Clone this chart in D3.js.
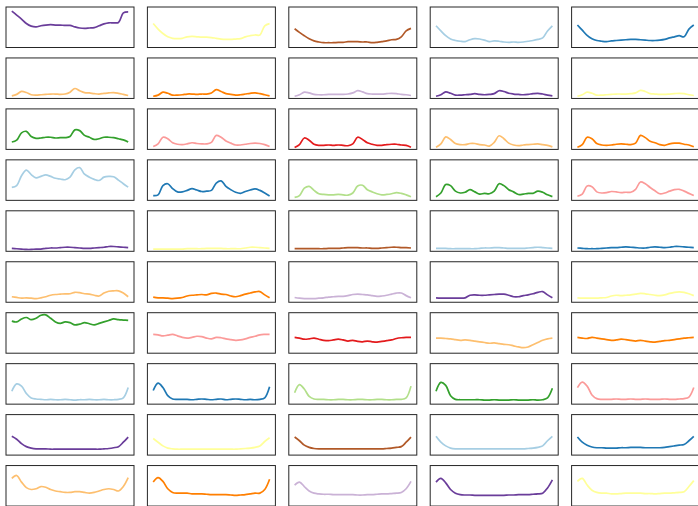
<!DOCTYPE html>
<html>
<head>
<meta charset="utf-8">
<script src="https://cdn.jsdelivr.net/npm/d3@7"></script>
<style>
  body { margin: 0; background: #fff; }
  svg { display: block; }
</style>
</head>
<body>
<div id="chart"></div>
<script>
// small multiples, 10 rows x 5 columns, one series per panel (values 0-100, shared y)

var row0 = [
  [94, 83, 72, 60, 53, 51, 54, 56, 57, 56, 56, 55, 55, 51, 48, 47, 48, 49, 54, 59, 62, 62, 63, 89, 92],
  [60, 45, 33, 24, 20, 19, 20, 24, 25, 24, 23, 23, 22, 20, 18, 17, 17, 18, 19, 24, 27, 29, 29, 54, 60],
  [46, 36, 27, 19, 13, 10, 8, 8, 8, 9, 9, 11, 11, 11, 10, 10, 8, 9, 11, 13, 16, 17, 24, 40, 47],
  [54, 40, 27, 18, 14, 12, 11, 16, 19, 18, 15, 11, 13, 12, 10, 9, 10, 9, 10, 12, 14, 17, 21, 40, 54],
  [56, 42, 28, 19, 14, 12, 11, 13, 14, 15, 16, 17, 17, 16, 15, 14, 14, 15, 17, 21, 24, 27, 24, 45, 56]
];
var row1 = [
  [2, 6, 14, 11, 5, 4, 5, 6, 7, 7, 6, 7, 12, 22, 16, 11, 10, 8, 7, 9, 10, 11, 9, 6, 3],
  [1, 4, 12, 9, 4, 4, 5, 7, 7, 6, 7, 7, 10, 19, 14, 8, 6, 4, 5, 7, 9, 10, 8, 5, 2],
  [1, 5, 12, 10, 6, 5, 5, 6, 6, 6, 6, 7, 10, 16, 13, 8, 7, 7, 7, 8, 9, 8, 6, 5, 3],
  [1, 5, 13, 9, 4, 4, 5, 6, 8, 6, 5, 6, 8, 16, 14, 9, 7, 6, 5, 6, 8, 9, 7, 4, 2],
  [1, 5, 12, 9, 4, 4, 5, 6, 7, 7, 7, 8, 10, 17, 14, 8, 7, 6, 6, 7, 8, 9, 8, 5, 3]
];
var row2 = [
  [15, 20, 40, 44, 30, 25, 26, 28, 28, 26, 27, 27, 30, 48, 46, 33, 28, 22, 24, 28, 28, 27, 24, 21, 15],
  [3, 10, 28, 24, 13, 9, 8, 10, 13, 11, 10, 10, 14, 33, 28, 18, 12, 7, 7, 9, 11, 12, 11, 8, 3],
  [0, 8, 26, 20, 9, 6, 6, 7, 6, 7, 6, 5, 10, 28, 22, 13, 9, 6, 6, 8, 9, 9, 7, 6, 1],
  [1, 10, 29, 22, 11, 8, 8, 11, 11, 8, 7, 4, 14, 32, 24, 12, 7, 5, 7, 8, 9, 10, 8, 6, 2],
  [1, 8, 28, 24, 11, 7, 6, 7, 9, 10, 9, 8, 12, 33, 27, 17, 13, 8, 6, 10, 12, 12, 9, 7, 2]
];
var row3 = [
  [30, 35, 62, 77, 65, 56, 60, 64, 60, 55, 53, 51, 58, 78, 84, 66, 58, 52, 49, 58, 60, 59, 50, 40, 31],
  [8, 10, 35, 40, 27, 18, 18, 22, 27, 23, 19, 20, 22, 42, 48, 33, 24, 17, 14, 19, 23, 26, 22, 15, 7],
  [3, 8, 28, 33, 22, 13, 11, 10, 10, 11, 10, 9, 15, 34, 36, 24, 18, 13, 10, 11, 13, 16, 14, 10, 5],
  [5, 15, 38, 35, 20, 15, 17, 24, 18, 12, 14, 13, 20, 40, 35, 24, 18, 11, 12, 14, 14, 20, 17, 10, 5],
  [6, 12, 34, 32, 18, 15, 16, 19, 18, 16, 17, 17, 25, 45, 40, 30, 21, 13, 15, 20, 24, 25, 20, 14, 8]
];
var row4 = [
  [3, 2, 1, 0, 0, 1, 1, 3, 4, 4, 5, 6, 6, 5, 4, 3, 3, 4, 5, 6, 8, 8, 7, 6, 5],
  [1, 1, 1, 1, 1, 1, 1, 2, 2, 2, 2, 3, 3, 3, 3, 2, 2, 2, 2, 4, 6, 6, 5, 4, 3],
  [2, 2, 2, 2, 2, 2, 2, 3, 3, 3, 4, 5, 5, 5, 4, 4, 3, 3, 4, 5, 6, 6, 5, 5, 4],
  [3, 3, 3, 2, 2, 2, 2, 2, 2, 3, 4, 4, 5, 5, 4, 3, 3, 3, 3, 4, 5, 6, 5, 4, 3],
  [4, 3, 2, 2, 2, 3, 4, 5, 5, 6, 7, 6, 5, 4, 4, 6, 7, 6, 5, 6, 8, 8, 7, 6, 5]
];
var row5 = [
  [10, 8, 6, 7, 6, 5, 7, 10, 14, 16, 17, 18, 18, 22, 21, 18, 17, 14, 12, 20, 25, 26, 26, 20, 10],
  [9, 7, 7, 6, 5, 6, 8, 12, 14, 15, 16, 15, 19, 20, 17, 16, 12, 10, 13, 17, 20, 23, 24, 15, 7],
  [8, 6, 5, 5, 5, 6, 7, 9, 10, 11, 11, 13, 16, 17, 16, 15, 13, 11, 12, 14, 17, 20, 20, 13, 7],
  [7, 6, 6, 6, 6, 6, 7, 14, 15, 14, 14, 15, 16, 17, 17, 14, 10, 10, 13, 15, 18, 22, 24, 15, 7],
  [7, 6, 6, 6, 6, 7, 8, 12, 14, 13, 14, 15, 17, 19, 18, 16, 14, 13, 15, 19, 22, 23, 22, 18, 13]
];
var row6 = [
  [82, 80, 88, 92, 86, 90, 98, 99, 90, 80, 76, 80, 78, 72, 74, 78, 75, 72, 76, 80, 84, 88, 86, 85, 84],
  [46, 45, 42, 44, 46, 42, 38, 36, 38, 41, 40, 36, 34, 38, 37, 34, 32, 30, 31, 34, 38, 41, 45, 46, 46],
  [38, 36, 33, 34, 36, 33, 30, 29, 31, 33, 31, 28, 30, 27, 26, 28, 26, 25, 27, 29, 31, 35, 37, 38, 38],
  [36, 36, 35, 34, 32, 30, 31, 30, 28, 26, 24, 22, 23, 21, 19, 18, 15, 12, 10, 12, 18, 24, 30, 34, 36],
  [38, 36, 35, 38, 36, 34, 32, 30, 31, 33, 32, 30, 28, 30, 28, 26, 25, 27, 29, 30, 32, 34, 36, 37, 38]
];
var row7 = [
  [30, 50, 44, 24, 12, 9, 8, 7, 8, 7, 7, 8, 7, 6, 7, 7, 8, 7, 7, 8, 7, 7, 8, 12, 40],
  [32, 52, 40, 18, 9, 8, 8, 8, 7, 8, 9, 8, 7, 8, 9, 7, 8, 9, 8, 7, 8, 7, 8, 12, 42],
  [26, 48, 36, 16, 9, 8, 8, 7, 7, 8, 8, 7, 7, 8, 8, 7, 7, 8, 8, 7, 7, 8, 8, 12, 44],
  [30, 54, 46, 18, 8, 7, 7, 7, 7, 7, 6, 6, 7, 6, 6, 6, 7, 6, 6, 6, 7, 6, 7, 12, 38],
  [40, 55, 44, 20, 10, 8, 8, 8, 9, 8, 8, 9, 8, 8, 9, 8, 8, 8, 9, 8, 8, 9, 10, 14, 40]
];
var row8 = [
  [46, 38, 26, 18, 14, 12, 12, 12, 11, 11, 11, 11, 11, 11, 11, 11, 11, 11, 11, 12, 13, 15, 18, 30, 44],
  [40, 30, 20, 14, 12, 11, 11, 11, 11, 11, 11, 11, 11, 11, 11, 11, 11, 11, 12, 13, 14, 16, 20, 32, 42],
  [44, 34, 22, 16, 13, 12, 12, 12, 12, 12, 12, 12, 12, 12, 12, 12, 12, 12, 12, 13, 14, 16, 18, 30, 44],
  [46, 30, 20, 14, 12, 12, 12, 12, 12, 12, 12, 12, 12, 12, 12, 12, 12, 12, 12, 13, 14, 16, 20, 34, 46],
  [44, 30, 22, 17, 15, 15, 14, 14, 14, 15, 15, 16, 16, 16, 15, 15, 15, 15, 16, 18, 20, 22, 24, 34, 46]
];
var row9 = [
  [70, 78, 60, 45, 40, 42, 48, 46, 40, 36, 34, 32, 32, 34, 34, 32, 30, 32, 36, 40, 42, 40, 36, 48, 72],
  [60, 72, 62, 42, 32, 30, 30, 30, 28, 28, 28, 27, 26, 26, 26, 26, 25, 24, 25, 26, 28, 30, 30, 40, 68],
  [52, 60, 48, 36, 30, 28, 27, 27, 26, 26, 26, 26, 26, 25, 25, 26, 26, 27, 28, 28, 29, 30, 32, 42, 62],
  [60, 70, 58, 40, 30, 26, 25, 25, 24, 24, 24, 24, 24, 24, 24, 25, 25, 26, 26, 26, 27, 28, 30, 44, 66],
  [62, 70, 52, 38, 32, 30, 30, 28, 28, 29, 30, 30, 30, 30, 29, 29, 28, 29, 30, 30, 31, 32, 34, 48, 64]
];

var rows = [row0, row1, row2, row3, row4, row5, row6, row7, row8, row9];

// matplotlib "Paired"
var paired = ["#a6cee3", "#1f78b4", "#b2df8a", "#33a02c", "#fb9a99", "#e31a1c",
              "#fdbf6f", "#ff7f00", "#cab2d6", "#6a3d9a", "#ffff99", "#b15928"];

var width = 698, height = 506;
var panelW = 128, panelH = 40.5;
var colStep = 141.4, rowStep = 50.95;
var left0 = 6, top0 = 7;

var svg = d3.select("#chart").append("svg")
  .attr("width", width)
  .attr("height", height);

var x = d3.scaleLinear().domain([-1.2, 25.2]).range([0, panelW]);
var y = d3.scaleLinear().domain([-5, 105]).range([panelH, 0]);

var line = d3.line()
  .x(function(d, i) { return x(i); })
  .y(function(d) { return y(d); })
  .curve(d3.curveCatmullRom.alpha(0.5));

rows.forEach(function(row, r) {
  row.forEach(function(series, c) {
    var g = svg.append("g")
      .attr("transform", "translate(" + (left0 + c * colStep) + "," + (top0 + r * rowStep) + ")");

    var colour = paired[((9 + c - 3 * r) % 12 + 12) % 12];

    g.append("path")
      .datum(series)
      .attr("d", line)
      .attr("fill", "none")
      .attr("stroke", colour)
      .attr("stroke-width", 1.7)
      .attr("stroke-linejoin", "round");

    g.append("rect")
      .attr("x", 0)
      .attr("y", 0)
      .attr("width", panelW)
      .attr("height", panelH)
      .attr("fill", "none")
      .attr("stroke", "#262626")
      .attr("stroke-width", 1);
  });
});
</script>
</body>
</html>
